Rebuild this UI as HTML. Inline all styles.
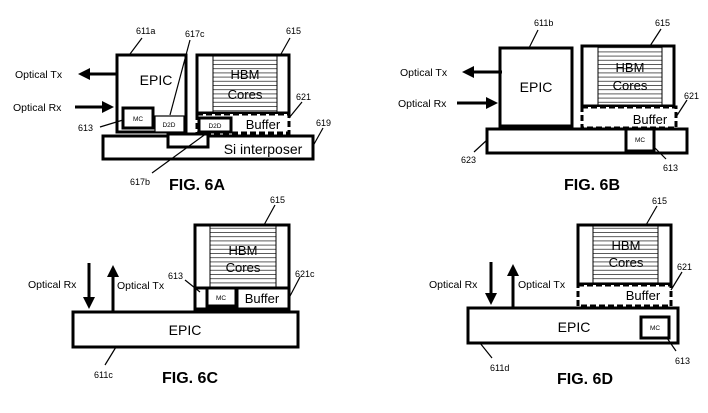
<!DOCTYPE html>
<html><head><meta charset="utf-8"><style>
html,body{margin:0;padding:0;background:#fff;width:708px;height:413px;overflow:hidden}
svg{display:block}
text{font-family:"Liberation Sans",Arial,sans-serif;fill:#000}
</style></head><body>
<svg width="708" height="413" viewBox="0 0 708 413" xmlns="http://www.w3.org/2000/svg">
<defs>
<pattern id="hl" width="10" height="4.2" patternUnits="userSpaceOnUse" y="1">
<rect width="10" height="4.2" fill="#fff"/><line x1="0" y1="0.5" x2="10" y2="0.5" stroke="#333" stroke-width="0.8"/>
</pattern>
<marker id="ah" markerWidth="4" markerHeight="4" refX="2" refY="2" orient="auto" markerUnits="strokeWidth"><path d="M0,0 L4,2 L0,4 z" fill="#000"/></marker>
</defs>
<g fill="none" stroke="#000" stroke-width="3">
<!-- 6A -->
<rect x="117" y="55" width="69" height="77" fill="#fff"/>
<rect x="123" y="108" width="30" height="20" fill="#fff"/>
<rect x="155" y="116" width="29" height="16" stroke-width="1.2" fill="#fff"/>
<rect x="197" y="55" width="92" height="58" fill="#fff"/>
<rect x="213" y="56" width="64" height="56" fill="url(#hl)" stroke-width="1"/>
<rect x="197" y="114" width="92" height="19" stroke-dasharray="6,3" fill="#fff"/>
<rect x="199" y="118" width="32" height="14" fill="#fff"/>
<rect x="103" y="136" width="210" height="23" fill="#fff"/>
<rect x="168" y="134" width="40" height="13" fill="#fff"/>
<line x1="117" y1="74" x2="84" y2="74" marker-end="url(#ah)"/>
<line x1="75" y1="107" x2="108" y2="107" marker-end="url(#ah)"/>
<!-- 6B -->
<rect x="500" y="48" width="72" height="78" fill="#fff"/>
<rect x="582" y="46" width="92" height="60" fill="#fff"/>
<rect x="598" y="47" width="64" height="58" fill="url(#hl)" stroke-width="1"/>
<rect x="582" y="107" width="94" height="21" stroke-dasharray="6,3" fill="#fff"/>
<rect x="487" y="129" width="200" height="24" fill="#fff"/>
<rect x="626" y="129" width="28" height="22" fill="#fff"/>
<line x1="502" y1="72" x2="468" y2="72" marker-end="url(#ah)"/>
<line x1="457" y1="103" x2="492" y2="103" marker-end="url(#ah)"/>
<!-- 6C -->
<rect x="195" y="225" width="94" height="84" fill="#fff"/>
<rect x="210" y="226" width="66" height="62" fill="url(#hl)" stroke-width="1"/>
<line x1="195" y1="288" x2="289" y2="288"/>
<rect x="237" y="288" width="52" height="21" fill="#fff"/>
<rect x="207" y="288" width="29" height="18" fill="#fff"/>
<rect x="207" y="306" width="29" height="5" fill="#000"/>
<rect x="73" y="312" width="225" height="35" fill="#fff"/>
<line x1="89" y1="263" x2="89" y2="303" marker-end="url(#ah)"/>
<line x1="113" y1="311" x2="113" y2="271" marker-end="url(#ah)"/>
<!-- 6D -->
<rect x="578" y="225" width="93" height="59" fill="#fff"/>
<rect x="593" y="226" width="65" height="57" fill="url(#hl)" stroke-width="1"/>
<rect x="578" y="285" width="93" height="21" stroke-dasharray="6,3" fill="#fff"/>
<rect x="468" y="308" width="210" height="35" fill="#fff"/>
<rect x="641" y="317" width="28" height="21" fill="#fff"/>
<line x1="491" y1="262" x2="491" y2="299" marker-end="url(#ah)"/>
<line x1="513" y1="307" x2="513" y2="270" marker-end="url(#ah)"/>
</g>
<!-- leaders -->
<g stroke="#000" stroke-width="1.2">
<line x1="130" y1="54" x2="142" y2="38"/><line x1="170" y1="115" x2="190" y2="40"/>
<line x1="281" y1="54" x2="290" y2="38"/><line x1="289" y1="118" x2="302" y2="102"/>
<line x1="313" y1="146" x2="323" y2="128"/><line x1="100" y1="127" x2="123" y2="120"/>
<line x1="152" y1="173" x2="207" y2="133"/>
<line x1="529" y1="48" x2="538" y2="30"/><line x1="650" y1="46" x2="661" y2="29"/>
<line x1="676" y1="117" x2="687" y2="100"/><line x1="487" y1="140" x2="474" y2="152"/>
<line x1="655" y1="148" x2="666" y2="159"/>
<line x1="264" y1="225" x2="275" y2="205"/><line x1="185" y1="280" x2="200" y2="292"/>
<line x1="289" y1="298" x2="300" y2="277"/><line x1="116" y1="347" x2="105" y2="365"/>
<line x1="646" y1="225" x2="657" y2="206"/><line x1="671" y1="290" x2="682" y2="272"/>
<line x1="480" y1="343" x2="492" y2="358"/><line x1="667" y1="338" x2="676" y2="351"/>
</g>
<g font-size="9">
<text x="136" y="34">611a</text><text x="185" y="37">617c</text><text x="286" y="34">615</text>
<text x="296" y="100">621</text><text x="316" y="126">619</text><text x="78" y="131">613</text>
<text x="130" y="185">617b</text>
<text x="534" y="26">611b</text><text x="655" y="26">615</text><text x="684" y="99">621</text>
<text x="461" y="163">623</text><text x="663" y="171">613</text>
<text x="270" y="203">615</text><text x="168" y="279">613</text><text x="295" y="277">621c</text><text x="94" y="378">611c</text>
<text x="652" y="204">615</text><text x="677" y="270">621</text><text x="490" y="371">611d</text><text x="675" y="364">613</text>
</g>
<g font-size="10.5">
<text x="15" y="78">Optical Tx</text><text x="13" y="111">Optical Rx</text>
<text x="400" y="76">Optical Tx</text><text x="398" y="107">Optical Rx</text>
<text x="28" y="288">Optical Rx</text><text x="117" y="289">Optical Tx</text>
<text x="429" y="288">Optical Rx</text><text x="518" y="288">Optical Tx</text>
</g>
<g font-size="14" text-anchor="middle">
<text x="156" y="85">EPIC</text><text x="536" y="92">EPIC</text>
<text x="185" y="335">EPIC</text><text x="574" y="332">EPIC</text>
<text x="263" y="154">Si interposer</text>
</g>
<g font-size="13" text-anchor="middle">
<text x="245" y="79">HBM</text><text x="245" y="99">Cores</text>
<text x="630" y="72">HBM</text><text x="630" y="90">Cores</text>
<text x="243" y="255">HBM</text><text x="243" y="272">Cores</text>
<text x="626" y="250">HBM</text><text x="626" y="267">Cores</text>
<text x="263" y="129">Buffer</text><text x="650" y="124">Buffer</text>
<text x="262" y="303">Buffer</text><text x="643" y="300">Buffer</text>
</g>
<g font-size="6.5" text-anchor="middle">
<text x="138" y="121">MC</text><text x="169" y="127">D2D</text><text x="215" y="128">D2D</text>
<text x="640" y="142">MC</text><text x="221" y="300">MC</text><text x="655" y="330">MC</text>
</g>
<g font-size="16" font-weight="bold" text-anchor="middle">
<text x="197" y="190">FIG. 6A</text><text x="592" y="190">FIG. 6B</text>
<text x="190" y="383">FIG. 6C</text><text x="585" y="384">FIG. 6D</text>
</g>
</svg>
</body></html>
